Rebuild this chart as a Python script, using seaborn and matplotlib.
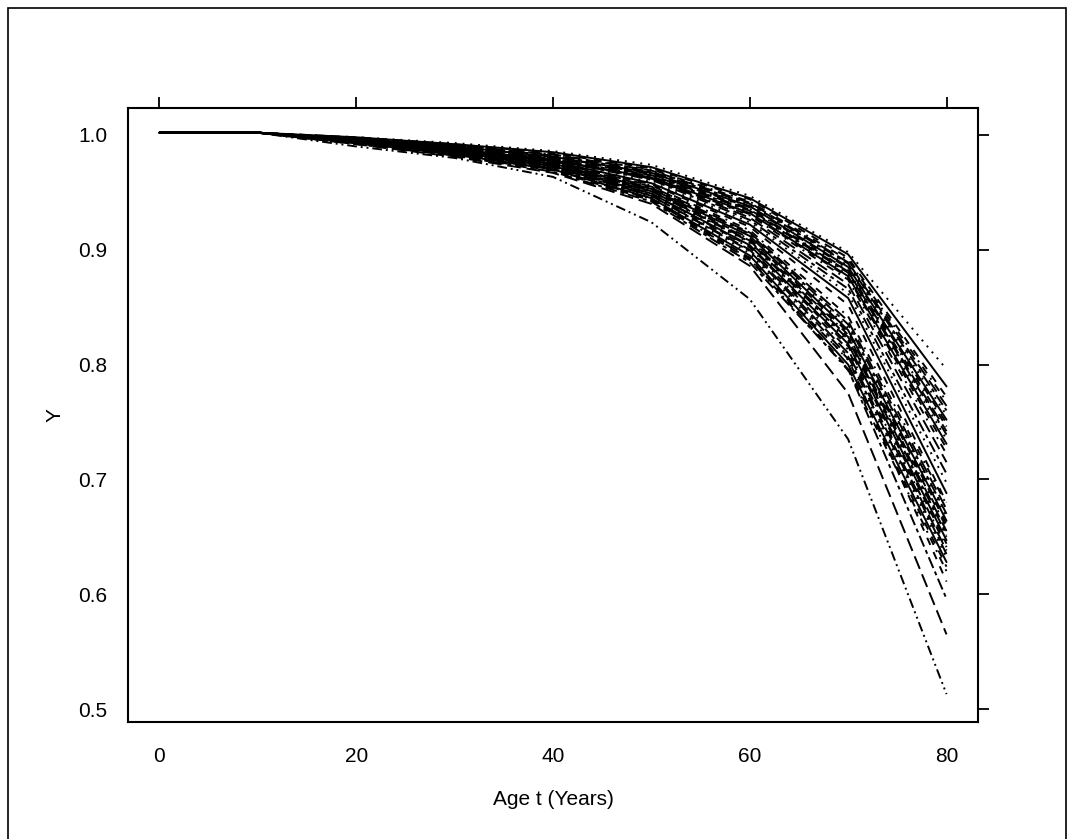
import numpy as np
import pandas as pd
import matplotlib
matplotlib.use("Agg")
import matplotlib.pyplot as plt
import seaborn as sns
from matplotlib.patches import Rectangle

# ages where the curves are evaluated
ages = [0, 10, 20, 30, 40, 50, 60, 70, 80]

# upper group of curves (values at ages 20..80, age 0 and 10 are ~1.002)
upper = [
    [0.998, 0.993, 0.986, 0.974, 0.947, 0.898, 0.796],
    [0.998, 0.992, 0.985, 0.972, 0.945, 0.896, 0.781],
    [0.998, 0.992, 0.984, 0.971, 0.944, 0.893, 0.772],
    [0.997, 0.991, 0.983, 0.970, 0.942, 0.891, 0.768],
    [0.997, 0.991, 0.983, 0.969, 0.941, 0.889, 0.764],
    [0.997, 0.991, 0.982, 0.968, 0.940, 0.888, 0.760],
    [0.997, 0.990, 0.982, 0.968, 0.939, 0.886, 0.756],
    [0.997, 0.990, 0.981, 0.967, 0.938, 0.885, 0.752],
    [0.996, 0.990, 0.981, 0.966, 0.937, 0.884, 0.749],
    [0.996, 0.989, 0.980, 0.966, 0.936, 0.882, 0.746],
    [0.996, 0.989, 0.980, 0.965, 0.935, 0.881, 0.742],
    [0.996, 0.989, 0.979, 0.964, 0.934, 0.880, 0.739],
    [0.996, 0.988, 0.979, 0.964, 0.933, 0.878, 0.735],
    [0.996, 0.988, 0.978, 0.963, 0.932, 0.877, 0.731],
    [0.996, 0.988, 0.978, 0.962, 0.931, 0.876, 0.727],
    [0.995, 0.988, 0.978, 0.962, 0.930, 0.874, 0.722],
]

# curves between the two groups
middle = [
    [0.996, 0.988, 0.979, 0.962, 0.928, 0.870, 0.715],
    [0.996, 0.988, 0.978, 0.961, 0.926, 0.866, 0.705],
    [0.995, 0.987, 0.977, 0.959, 0.924, 0.862, 0.697],
    [0.995, 0.987, 0.977, 0.958, 0.922, 0.858, 0.688],
    [0.995, 0.987, 0.976, 0.957, 0.920, 0.852, 0.680],
]

# lower group
lower = [
    [0.995, 0.987, 0.976, 0.956, 0.917, 0.842, 0.678],
    [0.995, 0.987, 0.976, 0.955, 0.915, 0.838, 0.674],
    [0.995, 0.986, 0.975, 0.954, 0.914, 0.835, 0.670],
    [0.995, 0.986, 0.975, 0.954, 0.913, 0.832, 0.667],
    [0.995, 0.986, 0.975, 0.953, 0.912, 0.830, 0.664],
    [0.994, 0.986, 0.974, 0.952, 0.910, 0.828, 0.661],
    [0.994, 0.986, 0.974, 0.952, 0.909, 0.826, 0.658],
    [0.994, 0.985, 0.974, 0.951, 0.908, 0.824, 0.655],
    [0.994, 0.985, 0.973, 0.951, 0.907, 0.822, 0.652],
    [0.994, 0.985, 0.973, 0.950, 0.906, 0.820, 0.650],
    [0.994, 0.985, 0.973, 0.949, 0.904, 0.818, 0.647],
    [0.994, 0.985, 0.972, 0.949, 0.903, 0.816, 0.644],
    [0.994, 0.984, 0.972, 0.948, 0.902, 0.813, 0.641],
    [0.993, 0.984, 0.972, 0.947, 0.900, 0.810, 0.638],
    [0.993, 0.984, 0.971, 0.947, 0.899, 0.807, 0.635],
    [0.993, 0.984, 0.971, 0.946, 0.897, 0.804, 0.632],
    [0.993, 0.983, 0.970, 0.945, 0.895, 0.800, 0.628],
    [0.993, 0.983, 0.970, 0.944, 0.893, 0.797, 0.624],
    [0.993, 0.983, 0.970, 0.944, 0.892, 0.795, 0.620],
]

# the few curves that drop fastest
outliers = [
    [0.993, 0.982, 0.969, 0.943, 0.891, 0.805, 0.611],
    [0.992, 0.982, 0.968, 0.942, 0.889, 0.796, 0.596],
    [0.992, 0.981, 0.967, 0.940, 0.886, 0.775, 0.565],
    [0.990, 0.980, 0.9635, 0.924, 0.857, 0.735, 0.513],
]

start_vals = [1.002, 1.002]

rows = []
for i, curve in enumerate(upper + middle + lower + outliers):
    vals = start_vals + curve
    for a, v in zip(ages, vals):
        rows.append({"curve": i, "age": a, "Y": v})
df = pd.DataFrame(rows)

# R-like line types: dotted, solid, dashed, dotdash, longdash, twodash
ltys = [(1, 3), "", (4, 4), (1, 3, 4, 3), (7, 3), (2, 2, 6, 2)]
n_curves = df["curve"].nunique()
dash_list = [ltys[i % len(ltys)] for i in range(n_curves)]
# fastest dropping curves: dotted, dashed, dash-dot styles as in the figure
dash_list[-4:] = [(4, 4), (2, 2, 6, 2), (7, 3), (1, 2, 1, 2, 5, 2)]

sns.set_style("white")
plt.rcParams["font.family"] = ["Liberation Sans", "DejaVu Sans"]
plt.rcParams["text.color"] = "black"
plt.rcParams["axes.labelcolor"] = "black"

fig = plt.figure(figsize=(10.70, 8.39), dpi=100)
ax = fig.add_axes([128 / 1070, 1 - 722 / 839, 850 / 1070, 614 / 839])

sns.lineplot(data=df, x="age", y="Y", units="curve", estimator=None,
             style="curve", dashes=dash_list, color="black",
             linewidth=1.4, legend=False, ax=ax)

ax.set_xlim(-3.2, 83.2)
ax.set_ylim(0.4887, 1.0235)
ax.set_xticks([0, 20, 40, 60, 80])
ax.set_yticks([0.5, 0.6, 0.7, 0.8, 0.9, 1.0])
ax.set_yticklabels(["0.5", "0.6", "0.7", "0.8", "0.9", "1.0"])

ax.tick_params(axis="both", which="both", direction="out", length=8, width=1.3,
               top=True, right=True, labeltop=False, labelright=False,
               labelsize=15, colors="black")
ax.tick_params(axis="x", pad=10)
ax.tick_params(axis="y", pad=7)
for sp in ax.spines.values():
    sp.set_visible(True)
    sp.set_color("black")
    sp.set_linewidth(1.5)

ax.set_xlabel("Age t (Years)", fontsize=15, labelpad=17, color="black")
ax.set_ylabel("Y", fontsize=15, labelpad=10, color="black")

# outer frame around the figure
fig.patches.append(Rectangle((8 / 1070, -0.02), 1058 / 1070, 1 - 8 / 839 + 0.02,
                             transform=fig.transFigure, fill=False,
                             edgecolor="black", linewidth=1.2))

fig.savefig("out.png", dpi=100)
